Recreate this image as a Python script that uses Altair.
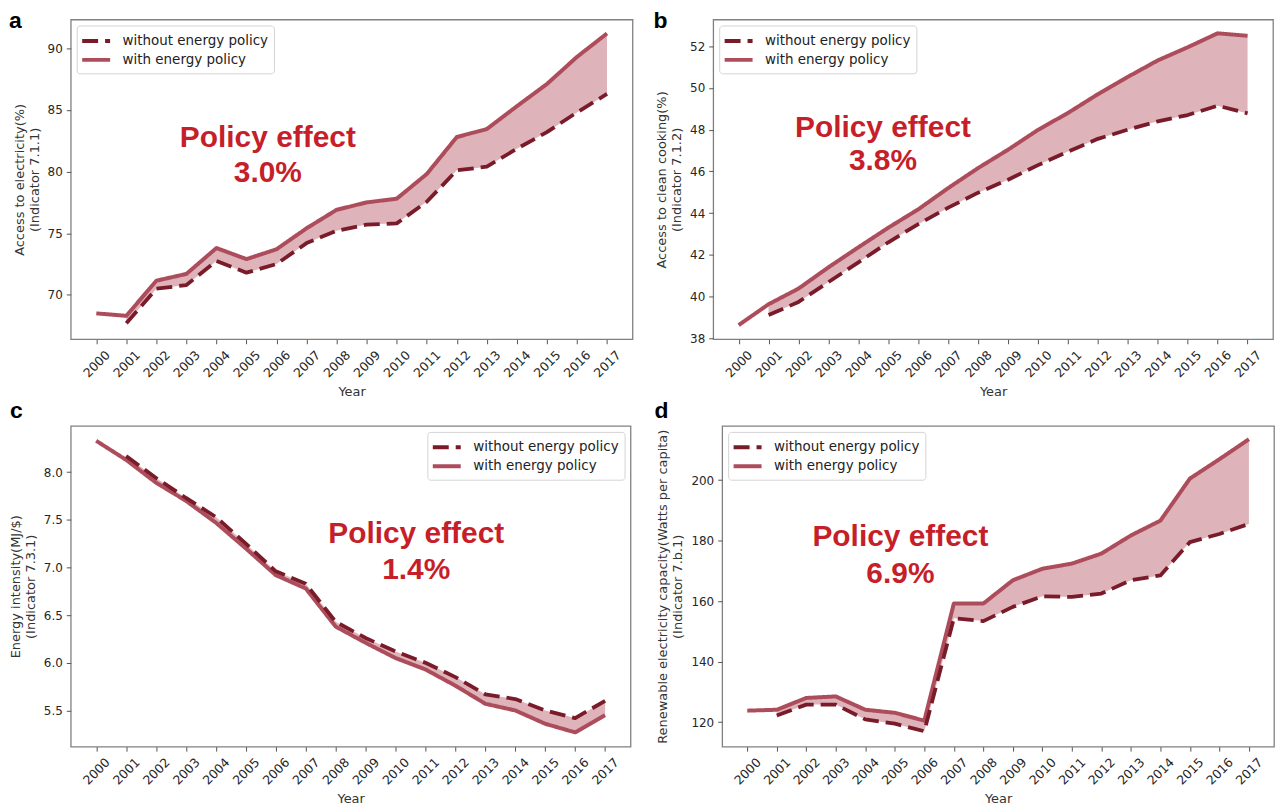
import altair as alt
import pandas as pd

years = list(range(2000, 2018))

# Panel a: Access to electricity (%)
elec_with = [68.5, 68.3, 71.15, 71.7, 73.8, 72.9, 73.7, 75.4, 76.9, 77.5, 77.8, 79.8, 82.8, 83.45, 85.3, 87.1, 89.3, 91.2]
elec_without = [None, 67.7, 70.5, 70.8, 72.75, 71.8, 72.5, 74.2, 75.2, 75.7, 75.8, 77.55, 80.1, 80.4, 81.85, 83.2, 84.8, 86.3]

# Panel b: Access to clean cooking (%)
cook_with = [38.63, 39.63, 40.38, 41.4, 42.36, 43.3, 44.18, 45.2, 46.16, 47.04, 47.99, 48.8, 49.7, 50.53, 51.32, 51.95, 52.62, 52.5]
cook_without = [None, 39.11, 39.74, 40.69, 41.64, 42.6, 43.47, 44.26, 44.98, 45.6, 46.3, 46.95, 47.56, 48.0, 48.4, 48.7, 49.15, 48.78]

# Panel c: Energy intensity (MJ/$)
ei_with = [8.33, 8.13, 7.89, 7.70, 7.47, 7.20, 6.92, 6.78, 6.38, 6.21, 6.05, 5.93, 5.76, 5.57, 5.50, 5.36, 5.27, 5.45]
ei_without = [None, 8.17, 7.94, 7.73, 7.53, 7.25, 6.96, 6.83, 6.43, 6.26, 6.12, 6.00, 5.85, 5.67, 5.62, 5.50, 5.42, 5.60]

# Panel d: Renewable electricity capacity (Watts per capita)
ren_with = [123.8, 124.1, 128.0, 128.5, 124.1, 123.1, 120.5, 159.2, 159.2, 166.9, 170.7, 172.4, 175.7, 181.7, 186.6, 200.5, 206.9, 213.5]
ren_without = [None, 122.2, 125.8, 125.8, 120.9, 119.5, 117.0, 154.3, 153.4, 158.1, 161.6, 161.4, 162.5, 166.9, 168.5, 179.5, 182.2, 185.5]

series_names = ["without energy policy", "with energy policy"]
effects = ["3.0%", "3.8%", "1.4%", "6.9%"]
letters = ["a", "b", "c", "d"]

DARK = "#7a1b29"
ROSE = "#ad4d5c"
FILL = "#dcafb5"
RED = "#c61f2a"
FONT = "DejaVu Sans"


def panel(w, wo, ytitle, ydom, yticks, yfmt, eff, ex, ey1, ey2, letter, lx, ly,
          lorient, W, H):
    with_df = pd.DataFrame({"year": years, "value": w, "series": series_names[1]}).dropna()
    without_df = pd.DataFrame({"year": years, "value": wo, "series": series_names[0]}).dropna()
    wide = pd.DataFrame({"year": years, "with": w, "without": wo}).dropna()
    ann = pd.DataFrame({"year": [ex, ex], "value": [ey1, ey2], "txt": ["Policy effect", eff]})
    lab = pd.DataFrame({"t": [letter]})

    xaxis = alt.Axis(values=years, format="d", labelAngle=-45, labelAlign="center",
                     labelBaseline="middle", labelPadding=20, labelOverlap=False,
                     labelFlush=False, labelFontSize=12.5, title="Year", titlePadding=6)
    xscale = alt.Scale(domain=[1999.15, 2017.85], nice=False, zero=False)
    yaxis = alt.Axis(values=yticks, format=yfmt, title=ytitle, titlePadding=6,
                     titleLineHeight=15)
    yscale = alt.Scale(domain=ydom, nice=False, zero=False)

    color = alt.Color("series:N",
                      scale=alt.Scale(domain=series_names, range=[DARK, ROSE]),
                      legend=alt.Legend(title=None, orient=lorient, offset=6,
                                        fillColor="white", strokeColor="#d4d4d4",
                                        cornerRadius=3, padding=5,
                                        labelFont=FONT, labelFontSize=13.5,
                                        labelColor="#222222",
                                        symbolType="M-1.65,0H1.65", symbolSize=289,
                                        symbolStrokeWidth=4, symbolOffset=4,
                                        labelOffset=16, rowPadding=0))
    dash = alt.StrokeDash("series:N",
                          scale=alt.Scale(domain=series_names, range=[[16, 7], [1, 0]]),
                          legend=alt.Legend(title=None))

    area = alt.Chart(wide).mark_area(color=FILL, opacity=0.95).encode(
        x=alt.X("year:Q", scale=xscale, axis=xaxis),
        y=alt.Y("without:Q", scale=yscale, axis=yaxis),
        y2="with:Q",
    )
    line_with = alt.Chart(with_df).mark_line(strokeWidth=4, strokeJoin="round").encode(
        x=alt.X("year:Q", scale=xscale, axis=xaxis),
        y=alt.Y("value:Q", scale=yscale, axis=yaxis),
        color=color, strokeDash=dash,
    )
    line_without = alt.Chart(without_df).mark_line(strokeWidth=3.8, strokeJoin="round").encode(
        x=alt.X("year:Q", scale=xscale, axis=xaxis),
        y=alt.Y("value:Q", scale=yscale, axis=yaxis),
        color=color, strokeDash=dash,
    )
    text = alt.Chart(ann).mark_text(font="Liberation Sans", fontSize=30, fontWeight="bold",
                                    color=RED, baseline="middle", align="center").encode(
        x=alt.X("year:Q", scale=xscale, axis=xaxis),
        y=alt.Y("value:Q", scale=yscale, axis=yaxis),
        text="txt:N",
    )
    letter_mark = alt.Chart(lab).mark_text(font="Liberation Sans", fontSize=23,
                                           fontWeight="bold", color="black",
                                           align="left", baseline="alphabetic").encode(
        x=alt.value(lx), y=alt.value(ly), text="t:N"
    )
    return alt.layer(area, line_with, line_without, text, letter_mark).properties(
        width=W, height=H)


pa = panel(elec_with, elec_without, ["Access to electricity(%)", "(Indicator 7.1.1)"],
           [66.4, 92.33], [70, 75, 80, 85, 90], "d", effects[0], 2005.71, 82.69, 79.88,
           letters[0], -62, 9, "top-left", 564, 321)
pb = panel(cook_with, cook_without, ["Access to clean cooking(%)", "(Indicator 7.1.2)"],
           [37.95, 53.28], [38, 40, 42, 44, 46, 48, 50, 52], "d", effects[1], 2004.82, 48.07, 46.5,
           letters[1], -60, 9, "top-left", 562, 321)
pc = panel(ei_with, ei_without, ["Energy intensity(MJ/$)", "(Indicator 7.3.1)"],
           [5.12, 8.486], [5.5, 6.0, 6.5, 7.0, 7.5, 8.0], ".1f", effects[2], 2010.69, 7.356, 6.972,
           letters[2], -61, -8, "top-right", 562, 322)
pd_ = panel(ren_with, ren_without,
            ["Renewable electricity capacity(Watts per capita)", "(Indicator 7.b.1)"],
            [111.9, 217.9], [120, 140, 160, 180, 200], "d", effects[3], 2005.19, 181.26, 169.1,
            letters[3], -68, -8, "top-left", 554, 322)

indep = dict(color="independent", strokeDash="independent")
row1 = alt.hconcat(pa, pb, spacing=19).resolve_scale(**indep).resolve_legend(**indep)
row2 = alt.hconcat(pc, pd_, spacing=22).resolve_scale(**indep).resolve_legend(**indep)

chart = alt.vconcat(row1, row2, spacing=0).resolve_scale(**indep).resolve_legend(**indep)
chart = chart.properties(padding=0, background="white").configure_view(
    stroke="#808080", strokeWidth=1.3
).configure_axis(
    domain=False, grid=False, tickColor="#555555", tickSize=4.5, tickWidth=1,
    labelFont=FONT, labelFontSize=12, labelColor="#262626", labelPadding=4,
    titleFont=FONT, titleFontSize=13, titleFontWeight="normal", titleColor="#333333",
)

chart.save("out.html", embed_options={"renderer": "svg", "actions": False})
